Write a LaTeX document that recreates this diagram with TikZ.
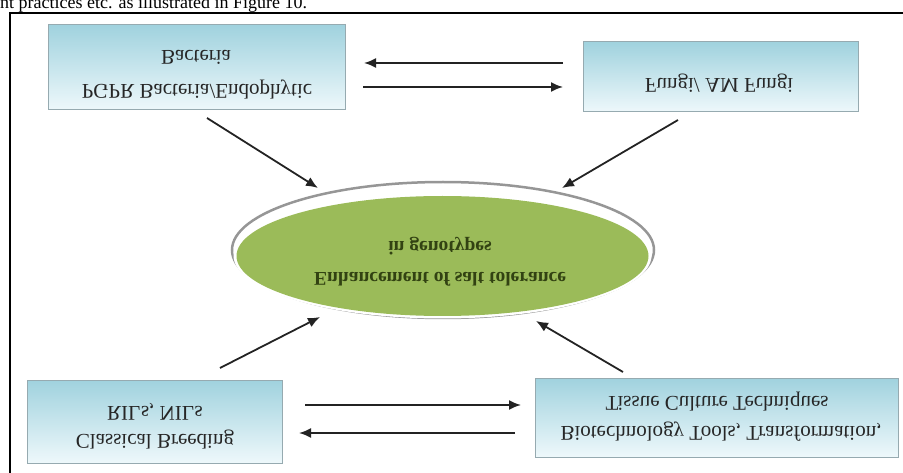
\documentclass[tikz,border=0pt]{standalone}
\usepackage{fontspec}
\setmainfont{Liberation Serif}
\usepackage{graphicx}
\usetikzlibrary{arrows.meta}
\definecolor{boxtop}{RGB}{160,210,222}
\definecolor{boxbot}{RGB}{238,248,251}
\definecolor{boxedge}{RGB}{150,170,176}
\definecolor{egreen}{RGB}{155,187,89}
\definecolor{etext}{RGB}{50,66,18}
\definecolor{erim}{RGB}{150,150,150}
\definecolor{arr}{RGB}{35,35,35}
\newcommand{\flipit}[1]{\scalebox{1}[-1]{#1}}
\tikzset{
  gbox/.style={draw=boxedge, line width=1pt, top color=boxtop, bottom color=boxbot, inner sep=0pt},
  boxtext/.style={font=\fontsize{21}{21}\selectfont, text=black!85, inner sep=0pt},
  etextstyle/.style={font=\bfseries\fontsize{19.5}{19.5}\selectfont, text=etext, inner sep=0pt},
  conn/.style={draw=arr, line width=1.8pt, -{Latex[length=12pt,width=10pt]}}
}
\begin{document}
\begin{tikzpicture}[x=1pt,y=-1pt]
\useasboundingbox (0,0) rectangle (903,473);
% caption fragment
\node[anchor=base west, font=\fontsize{18}{18}\selectfont, inner sep=0pt] (cap) at (0,8.5) {nt practices etc. as illustrated in Figure 10.};
% frame
\draw[line width=2pt] (10,480) -- (10,12.7) -- (910,12.7);
% boxes
\node[gbox, minimum width=297pt, minimum height=85pt] (bact) at (196.5,67.5) {};
\node[gbox, minimum width=275pt, minimum height=70pt] (fungi) at (720.5,77) {};
\node[gbox, minimum width=255pt, minimum height=83pt] (breed) at (154.5,421.5) {};
\node[gbox, minimum width=363pt, minimum height=79pt] (biot) at (716.5,417.5) {};
% box texts (vertically mirrored as in the reference)
\node[boxtext] (bact1) at (196,57) {\flipit{Bacteria}};
\node[boxtext] (bact2) at (197,90) {\flipit{PGPR Bacteria/Endophytic}};
\node[boxtext] (fung1) at (719,83) {\flipit{Fungi/ AM Fungi}};
\node[boxtext] (breed1) at (155,412) {\flipit{RILs, NILs}};
\node[boxtext] (breed2) at (155,440) {\flipit{Classical Breeding}};
\node[boxtext] (biot1) at (717,402) {\flipit{Tissue Culture Techniques}};
\node[boxtext] (biot2) at (721,432) {\flipit{Biotechnology Tools, Transformation,}};
% ellipse
\fill[white] (443,250) ellipse [x radius=211pt, y radius=68pt];
\draw[erim, line width=2.5pt] (443,250) ellipse [x radius=211pt, y radius=68pt];
\fill[white] (442.5,255.5) ellipse [x radius=209pt, y radius=63pt];
\fill[egreen] (442.5,256) ellipse [x radius=206pt, y radius=60pt];
\node[etextstyle] (ell1) at (440,246) {\flipit{in genotypes}};
\node[etextstyle] (ell2) at (440,279) {\flipit{Enhancement of salt tolerance}};
% connector end points
\coordinate (a1s) at (207,118); \coordinate (a1e) at (318,188);
\coordinate (a2s) at (678,120); \coordinate (a2e) at (562,188);
\coordinate (a3s) at (220,368); \coordinate (a3e) at (320,317);
\coordinate (a4s) at (623,372); \coordinate (a4e) at (536,321);
\coordinate (h1s) at (563,63);  \coordinate (h1e) at (364,63);
\coordinate (h2s) at (363,87);  \coordinate (h2e) at (563,87);
\coordinate (h3s) at (305,405); \coordinate (h3e) at (521,405);
\coordinate (h4s) at (515,433); \coordinate (h4e) at (299,433);
\draw[conn] (a1s) -- (a1e);
\draw[conn] (a2s) -- (a2e);
\draw[conn] (a3s) -- (a3e);
\draw[conn] (a4s) -- (a4e);
\draw[conn] (h1s) -- (h1e);
\draw[conn] (h2s) -- (h2e);
\draw[conn] (h3s) -- (h3e);
\draw[conn] (h4s) -- (h4e);
\end{tikzpicture}
\end{document}
